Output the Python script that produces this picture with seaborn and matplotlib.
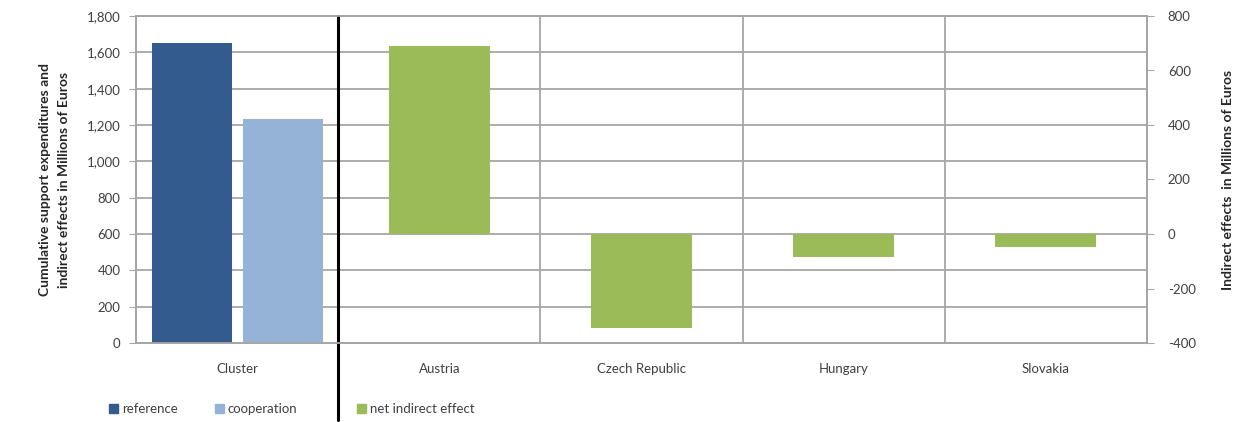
import matplotlib
matplotlib.use("Agg")
import matplotlib.pyplot as plt
from matplotlib.patches import Patch
import seaborn as sns
import pandas as pd

categories = ["Cluster", "Austria", "Czech Republic", "Hungary", "Slovakia"]
cluster_series = ["reference", "cooperation"]
cluster_values = [1650, 1235]
countries = ["Austria", "Czech Republic", "Hungary", "Slovakia"]
net_indirect = [690, -345, -85, -48]
left_ticks = [0, 200, 400, 600, 800, 1000, 1200, 1400, 1600, 1800]
right_ticks = [-400, -200, 0, 200, 400, 600, 800]

c_ref = "#335B8E"
c_coop = "#95B3D7"
c_net = "#9BBB59"
grid_c = "#A6A6A6"
text_c = "#404040"

sns.set_style("white")
plt.rcParams["font.family"] = ["Lato", "DejaVu Sans"]
plt.rcParams["axes.unicode_minus"] = False

fig = plt.figure(figsize=(12.4, 4.22), dpi=100)
ax = fig.add_axes([136/1240, 1-343/422, (1147-136)/1240, (343-16)/422])

df_c = pd.DataFrame({"group": ["Cluster"]*2, "series": cluster_series, "value": cluster_values})
sns.barplot(data=df_c, x="group", y="value", hue="series", order=categories,
            hue_order=cluster_series, palette=[c_ref, c_coop], width=0.9, gap=0.12,
            legend=False, ax=ax, zorder=3, saturation=1, linewidth=0)
ax.set_ylim(0, 1800)
ax.set_yticks(left_ticks)
ax.set_yticklabels([f"{v:,}" for v in left_ticks])
ax.set_xlim(-0.5, 4.5)
ax.grid(axis="y", color=grid_c, lw=1.3)
ax.set_axisbelow(True)
ax.set_xlabel("")
ax.set_ylabel("Cumulative support expenditures and\nindirect effects in Millions of Euros",
              fontsize=10, fontweight="bold", color="#262626", labelpad=12, linespacing=1.75)
ax.tick_params(axis="y", which="major", left=True, length=5, color=grid_c, labelsize=9.5,
               labelcolor=text_c, pad=6)
ax.tick_params(axis="x", bottom=False, labelsize=9.5, labelcolor=text_c, pad=11)
for s in ax.spines.values():
    s.set_color(grid_c)
    s.set_linewidth(1.3)

for xb in [1.5, 2.5, 3.5]:
    ax.axvline(xb, color=grid_c, lw=1.3, zorder=1)
ax.axvline(0.5, ymin=-0.235, ymax=1, color="black", lw=2.2, clip_on=False, zorder=5)

ax2 = ax.twinx()
df_n = pd.DataFrame({"country": countries, "value": net_indirect})
sns.barplot(data=df_n, x="country", y="value", order=categories, color=c_net,
            width=0.5, ax=ax2, saturation=1, linewidth=0)
ax2.set_ylim(-400, 800)
ax2.set_yticks(right_ticks)
ax2.set_xlim(-0.5, 4.5)
ax2.set_ylabel("Indirect effects  in Millions of Euros", fontsize=10, fontweight="bold",
               color="#262626", labelpad=19)
ax2.tick_params(axis="y", right=True, length=5, color=grid_c, labelsize=9.5,
                labelcolor=text_c, pad=10)
ax2.grid(False)
for s in ax2.spines.values():
    s.set_color(grid_c)
    s.set_linewidth(1.3)

fig.legend(handles=[Patch(color=c_ref, label="reference"), Patch(color=c_coop, label="cooperation")],
           loc="center left", bbox_to_anchor=(97/1240, 1-409/422), ncol=2, frameon=False,
           fontsize=9.5, handlelength=0.7, handleheight=0.7, handletextpad=0.3,
           columnspacing=2.8, labelcolor=text_c)
fig.legend(handles=[Patch(color=c_net, label="net indirect effect")],
           loc="center left", bbox_to_anchor=(345/1240, 1-409/422), frameon=False,
           fontsize=9.5, handlelength=0.7, handleheight=0.7, handletextpad=0.3,
           labelcolor=text_c)

fig.savefig("out.png", dpi=100, facecolor="white")
